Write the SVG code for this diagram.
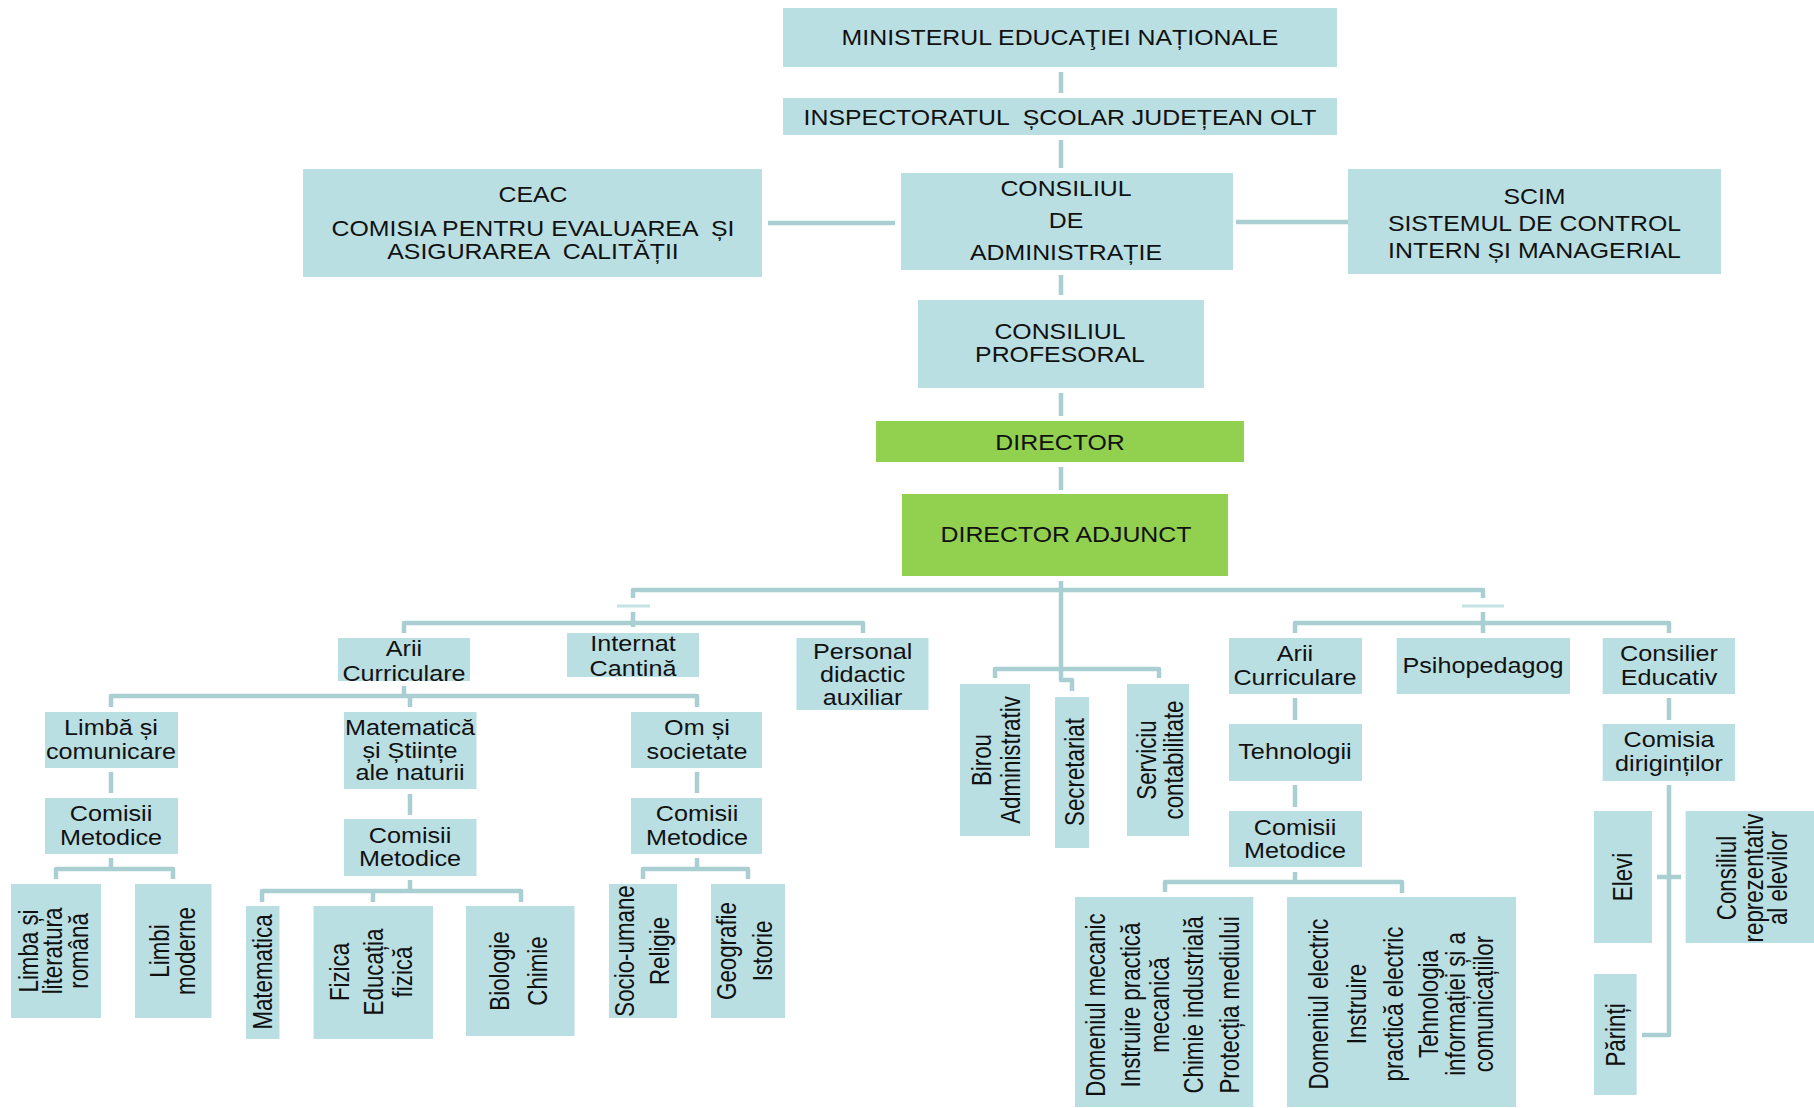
<svg xmlns="http://www.w3.org/2000/svg" width="1814" height="1108" viewBox="0 0 1814 1108">
<style>
.box{fill:#BADFE3}
.green{fill:#92D050}
.ln{fill:none;stroke:#A9CFD3;stroke-width:4.5;stroke-linejoin:round;stroke-linecap:butt}
.tick{fill:none;stroke:#C4E3E6;stroke-width:3}
text{font-family:"Liberation Sans",Arial,sans-serif;fill:#111;text-anchor:middle}
.pre{white-space:pre}
.t1{font-size:22px}
.t2{font-size:22.5px}
.tv{font-size:22.3px}
</style>
<rect width="1814" height="1108" fill="#fff"/>
<g id="connectors">
<path class="ln" d="M1061 72V93M1061 140V168M768 223H895M1236 222H1348M1061 275V295M1061 393V416M1061 467V490"/>
<path class="ln" d="M1061 581V680H1072V691"/>
<path class="ln" d="M995 678V669H1159V678"/>
<path class="ln" d="M633 598V590H1483V598"/>
<path class="tick" d="M617 606H650M1462 606H1504"/>
<path class="ln" d="M633 612V627M1483 612V633"/>
<path class="ln" d="M404 633V623H863V633"/>
<path class="ln" d="M1295 633V623H1669V633"/>
<path class="ln" d="M404 686V696M111 707V696H697V707M410 696V707"/>
<path class="ln" d="M111 772V793M111 858V869M56 879V869H173V879"/>
<path class="ln" d="M410 794V815M410 880V891M262 902V891H521V902M373 891V902"/>
<path class="ln" d="M697 772V793M697 858V869M643 879V869H748V879"/>
<path class="ln" d="M1295 698V720M1295 785V807M1295 872V882M1165 892V882H1402V893"/>
<path class="ln" d="M1669 698V720M1669 785V1035H1642M1657 877H1681"/>
</g>
<g id="n-minister"><rect class="box" x="783" y="8" width="554" height="59"/><text class="t1" transform="translate(1060 0) scale(1.13 1)" y="45">MINISTERUL EDUCAŢIEI NAȚIONALE</text></g>
<g id="n-inspectorat"><rect class="box" x="783" y="98" width="554" height="37"/><text class="t1 pre" transform="translate(1060 0) scale(1.13 1)" y="125">INSPECTORATUL  ȘCOLAR JUDEȚEAN OLT</text></g>
<g id="n-ca"><rect class="box" x="901" y="173" width="332" height="97"/><text class="t1" transform="translate(1066 0) scale(1.13 1)"><tspan x="0" y="196">CONSILIUL</tspan><tspan x="0" y="228">DE</tspan><tspan x="0" y="260">ADMINISTRAȚIE</tspan></text></g>
<g id="n-ceac"><rect class="box" x="303" y="169" width="459" height="108"/><text class="t1 pre" transform="translate(533 0) scale(1.13 1)"><tspan x="0" y="202">CEAC</tspan><tspan x="0" y="236">COMISIA PENTRU EVALUAREA  ȘI</tspan><tspan x="0" y="259">ASIGURAREA  CALITĂȚII</tspan></text></g>
<g id="n-scim"><rect class="box" x="1348" y="169" width="373" height="105"/><text class="t1" transform="translate(1534.5 0) scale(1.13 1)"><tspan x="0" y="204">SCIM</tspan><tspan x="0" y="231">SISTEMUL DE CONTROL</tspan><tspan x="0" y="258">INTERN ȘI MANAGERIAL</tspan></text></g>
<g id="n-cp"><rect class="box" x="918" y="300" width="286" height="88"/><text class="t1" transform="translate(1060 0) scale(1.13 1)"><tspan x="0" y="339">CONSILIUL</tspan><tspan x="0" y="362">PROFESORAL</tspan></text></g>
<g id="n-director"><rect class="green" x="876" y="421" width="368" height="41"/><text class="t1" transform="translate(1060 0) scale(1.13 1)" y="450">DIRECTOR</text></g>
<g id="n-da"><rect class="green" x="902" y="494" width="326" height="82"/><text class="t1" transform="translate(1066 0) scale(1.13 1)" y="542">DIRECTOR ADJUNCT</text></g>
<g id="n-arii-l"><rect class="box" x="338" y="638" width="132" height="43"/><text class="t2" transform="translate(404 0) scale(1.12 1)"><tspan x="0" y="656">Arii</tspan><tspan x="0" y="681">Curriculare</tspan></text></g>
<g id="n-internat"><rect class="box" x="567" y="633" width="132" height="44"/><text class="t2" transform="translate(633 0) scale(1.12 1)"><tspan x="0" y="651">Internat</tspan><tspan x="0" y="676">Cantină</tspan></text></g>
<g id="n-personal"><rect class="box" x="796.5" y="638" width="132" height="72"/><text class="t2" transform="translate(862.6 0) scale(1.12 1)"><tspan x="0" y="659">Personal</tspan><tspan x="0" y="682">didactic</tspan><tspan x="0" y="705">auxiliar</tspan></text></g>
<g id="n-limba"><rect class="box" x="45" y="712" width="133" height="56"/><text class="t2" transform="translate(111 0) scale(1.12 1)"><tspan x="0" y="735">Limbă și</tspan><tspan x="0" y="759">comunicare</tspan></text></g>
<g id="n-comisii-l"><rect class="box" x="45" y="798" width="133" height="56"/><text class="t2" transform="translate(111 0) scale(1.12 1)"><tspan x="0" y="821">Comisii</tspan><tspan x="0" y="845">Metodice</tspan></text></g>
<g id="n-matsti"><rect class="box" x="344" y="712" width="132.5" height="77"/><text class="t2" transform="translate(410 0) scale(1.12 1)"><tspan x="0" y="735">Matematică</tspan><tspan x="0" y="758">și Științe</tspan><tspan x="0" y="780">ale naturii</tspan></text></g>
<g id="n-comisii-m"><rect class="box" x="344" y="819" width="132.5" height="57"/><text class="t2" transform="translate(410 0) scale(1.12 1)"><tspan x="0" y="843">Comisii</tspan><tspan x="0" y="866">Metodice</tspan></text></g>
<g id="n-om"><rect class="box" x="631" y="712" width="131" height="56"/><text class="t2" transform="translate(697 0) scale(1.12 1)"><tspan x="0" y="735">Om și</tspan><tspan x="0" y="759">societate</tspan></text></g>
<g id="n-comisii-o"><rect class="box" x="631" y="798" width="131" height="56"/><text class="t2" transform="translate(697 0) scale(1.12 1)"><tspan x="0" y="821">Comisii</tspan><tspan x="0" y="845">Metodice</tspan></text></g>
<g id="n-limba-rom"><rect class="box" x="11" y="884" width="90" height="134"/><text class="tv" transform="translate(56 951) scale(1.24 1) rotate(-90)"><tspan x="0" y="-14.2">Limba și</tspan><tspan x="0" y="5.2">literatura</tspan><tspan x="0" y="25.8">română</tspan></text></g>
<g id="n-limbi-mod"><rect class="box" x="135" y="884" width="76.5" height="134"/><text class="tv" transform="translate(173 951) scale(1.24 1) rotate(-90)"><tspan x="0" y="-3">Limbi</tspan><tspan x="0" y="17.8">moderne</tspan></text></g>
<g id="n-matematica"><rect class="box" x="246" y="906" width="33.5" height="133"/><text class="tv" transform="translate(263 972) scale(1.24 1) rotate(-90)" y="7.3">Matematica</text></g>
<g id="n-fizica"><rect class="box" x="313.5" y="906" width="119.5" height="133"/><text class="tv" transform="translate(373 972) scale(1.24 1) rotate(-90)"><tspan x="0" y="-19.3">Fizica</tspan><tspan x="0" y="7.8">Educația</tspan><tspan x="0" y="31.5">fizică</tspan></text></g>
<g id="n-biologie"><rect class="box" x="466" y="906" width="108.5" height="130"/><text class="tv" transform="translate(520 971) scale(1.24 1) rotate(-90)"><tspan x="0" y="-8.8">Biologie</tspan><tspan x="0" y="21.6">Chimie</tspan></text></g>
<g id="n-socio"><rect class="box" x="609" y="884" width="68" height="134"/><text class="tv" transform="translate(643 951) scale(1.24 1) rotate(-90)"><tspan x="0" y="-7.5">Socio-umane</tspan><tspan x="0" y="21">Religie</tspan></text></g>
<g id="n-geografie"><rect class="box" x="711" y="884" width="74" height="134"/><text class="tv" transform="translate(748 951) scale(1.24 1) rotate(-90)"><tspan x="0" y="-9.6">Geografie</tspan><tspan x="0" y="19.4">Istorie</tspan></text></g>
<g id="n-birou"><rect class="box" x="960" y="684" width="70" height="152"/><text class="tv" transform="translate(995 760) scale(1.24 1) rotate(-90)"><tspan x="0" y="-3.2">Birou</tspan><tspan x="0" y="20.2">Administrativ</tspan></text></g>
<g id="n-secretariat"><rect class="box" x="1055" y="697" width="34" height="151"/><text class="tv" transform="translate(1072 772) scale(1.24 1) rotate(-90)" y="9.4">Secretariat</text></g>
<g id="n-serviciu"><rect class="box" x="1127" y="684" width="62" height="152"/><text class="tv" transform="translate(1158 760) scale(1.24 1) rotate(-90)"><tspan x="0" y="-1.6">Serviciu</tspan><tspan x="0" y="19.9">contabilitate</tspan></text></g>
<g id="n-arii-r"><rect class="box" x="1229" y="638" width="133" height="56"/><text class="t2" transform="translate(1295 0) scale(1.12 1)"><tspan x="0" y="661">Arii</tspan><tspan x="0" y="685">Curriculare</tspan></text></g>
<g id="n-psiho"><rect class="box" x="1396.7" y="638" width="173.3" height="56"/><text class="t2" transform="translate(1483 0) scale(1.12 1)" y="673">Psihopedagog</text></g>
<g id="n-consilier"><rect class="box" x="1602.7" y="638" width="132.3" height="56"/><text class="t2" transform="translate(1669 0) scale(1.12 1)"><tspan x="0" y="661">Consilier</tspan><tspan x="0" y="685">Educativ</tspan></text></g>
<g id="n-tehnologii"><rect class="box" x="1229" y="724" width="133" height="57"/><text class="t2" transform="translate(1295 0) scale(1.12 1)" y="759">Tehnologii</text></g>
<g id="n-comisii-r"><rect class="box" x="1229" y="811" width="133" height="56"/><text class="t2" transform="translate(1295 0) scale(1.12 1)"><tspan x="0" y="835">Comisii</tspan><tspan x="0" y="858">Metodice</tspan></text></g>
<g id="n-comisia-dir"><rect class="box" x="1602.7" y="724" width="132.3" height="57"/><text class="t2" transform="translate(1669 0) scale(1.12 1)"><tspan x="0" y="747">Comisia</tspan><tspan x="0" y="771">diriginților</tspan></text></g>
<g id="n-dom-mecanic"><rect class="box" x="1075" y="897" width="178.3" height="210"/><text class="tv" transform="translate(1164 1005) scale(1.24 1) rotate(-90)"><tspan x="0" y="-47.9">Domeniul mecanic</tspan><tspan x="0" y="-19.3">Instruire practică</tspan><tspan x="0" y="4">mecanică</tspan><tspan x="0" y="31.5">Chimie industrială</tspan><tspan x="0" y="60.1">Protecția mediului</tspan></text></g>
<g id="n-dom-electric"><rect class="box" x="1287" y="897" width="229" height="210"/><text class="tv" transform="translate(1401.5 1004) scale(1.24 1) rotate(-90)"><tspan x="0" y="-58.9">Domeniul electric</tspan><tspan x="0" y="-28.9">Instruire</tspan><tspan x="0" y="1.1">practică electric</tspan><tspan x="0" y="29.4">Tehnologia</tspan><tspan x="0" y="51.6">informației și a</tspan><tspan x="0" y="73.8">comunicațiilor</tspan></text></g>
<g id="n-elevi"><rect class="box" x="1594" y="811" width="58" height="132"/><text class="tv" transform="translate(1623 877) scale(1.24 1) rotate(-90)" y="7.3">Elevi</text></g>
<g id="n-consiliul-elevi"><rect class="box" x="1685.6" y="811" width="128.4" height="132"/><text class="tv" transform="translate(1750 878) scale(1.24 1) rotate(-90)"><tspan x="0" y="-11.5">Consiliul</tspan><tspan x="0" y="10.5">reprezentativ</tspan><tspan x="0" y="29.6">al elevilor</tspan></text></g>
<g id="n-parinti"><rect class="box" x="1594" y="974" width="42.6" height="121"/><text class="tv" transform="translate(1615 1035) scale(1.24 1) rotate(-90)" y="8">Părinți</text></g>
</svg>
